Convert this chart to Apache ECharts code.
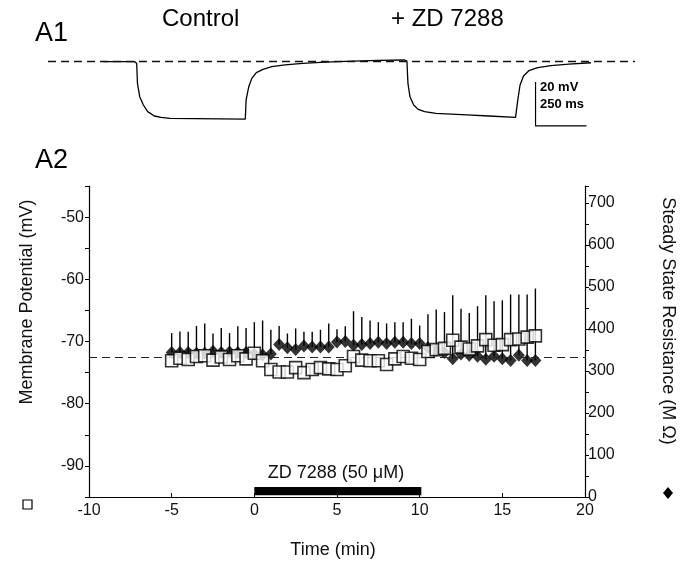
<!DOCTYPE html>
<html><head><meta charset="utf-8">
<script src="https://cdn.jsdelivr.net/npm/echarts@6/dist/echarts.min.js"></script>
<style>html,body{margin:0;padding:0;background:#fff}#c{width:697px;height:563px}</style>
</head><body><div id="c"></div>
<script>
// ---- A2 data ----
const timeMin = [-5,-4.5,-4,-3.5,-3,-2.5,-2,-1.5,-1,-0.5,0,0.5,1,1.5,2,2.5,3,3.5,4,4.5,5,5.5,6,6.5,7,7.5,8,8.5,9,9.5,10,10.5,11,11.5,12,12.5,13,13.5,14,14.5,15,15.5,16,16.5,17];
const membranePotential = [-73.1,-72.7,-72.9,-72.4,-72.3,-73.0,-72.5,-72.9,-72.3,-72.8,-71.9,-73.1,-74.5,-74.9,-74.9,-74.2,-75.0,-74.5,-74.2,-74.4,-74.5,-73.9,-72.4,-73.0,-73.1,-73.1,-73.7,-72.8,-72.4,-72.7,-72.9,-71.6,-71.3,-71.1,-69.8,-70.9,-71.2,-70.7,-69.7,-70.6,-70.5,-69.7,-69.6,-69.3,-69.1];
const resistance = [344,344,344,342,342,347,344,345,344,344,340,338,340,363,355,351,359,357,357,357,369,370,361,363,365,368,365,368,368,365,365,356,349,344,329,340,337,335,328,335,329,325,337,325,325];
const resistanceSem = [46,50,49,65,71,42,58,45,62,58,76,82,58,44,34,50,34,36,41,56,30,36,81,65,55,48,48,48,48,59,43,79,97,96,151,108,101,119,152,131,139,157,145,157,171];
const xTickLabels = [-10,-5,0,5,10,15,20];
const leftTickLabels = [-90,-80,-70,-60,-50];
const rightTickLabels = [0,100,200,300,400,500,600,700];
const baselinePotential = -72.5;
const drugPeriod = [0, 10.1];
// ---- A1 traces (ms, mV) ----
const controlTraceT = [272,424,435,439,450,468,489,522,555,598,968,972,985,1000,1022,1055,1098,1163,1250,1337,1424];
const controlTraceV = [-0.3,-0.3,-1,-10.2,-16.2,-20,-23,-25,-25.6,-26.1,-26.4,-17.7,-11.7,-7.9,-5.3,-3.8,-2.6,-1.8,-1.05,-0.6,-0.3];
const zdTraceT = [1424,1620,1750,1761,1766,1776,1794,1816,1848,1903,2055,2163,2294,2305,2316,2333,2359,2403,2468,2555,2664];
const zdTraceV = [-0.3,0.3,0.45,0,-10.2,-16.2,-20,-22,-23,-23.8,-24.5,-25,-25.6,-17.7,-10.9,-6.8,-4.4,-3.0,-2.1,-1.4,-0.8];
const scaleBarT = [2392, 2392, 2642];
const scaleBarV = [-9.5, -29.5, -29.5];

const FONT = '"Liberation Sans", Arial, Helvetica, sans-serif';
const chart = echarts.init(document.getElementById('c'), null, {renderer:'canvas'});
const zip = (a,b) => a.map((v,i)=>[v,b[i]]);

const option = {
  animation:false,
  backgroundColor:'#fff',
  grid:[
    {left:89, top:186, width:496, height:311},
    {left:48, top:39, width:587, height:88}
  ],
  xAxis:[
    {type:'value', gridIndex:0, min:-10, max:20, interval:5,
     axisLine:{onZero:false, lineStyle:{color:'#000', width:1.2}},
     axisTick:{inside:true, length:4, lineStyle:{color:'#000'}},
     axisLabel:{color:'#111', fontFamily:FONT, fontSize:16, margin:6,
       formatter:v=> xTickLabels.includes(v) ? String(v) : ''},
     splitLine:{show:false}},
    {type:'value', gridIndex:1, min:0, max:2880, show:false}
  ],
  yAxis:[
    {type:'value', gridIndex:0, min:-95, max:-45, interval:5, position:'left',
     axisLine:{show:true, onZero:false, lineStyle:{color:'#000', width:1.2}},
     axisTick:{show:true, length:4, lineStyle:{color:'#000'}},
     axisLabel:{color:'#111', fontFamily:FONT, fontSize:16, margin:5,
       formatter:v=> leftTickLabels.includes(v) ? String(v) : ''},
     splitLine:{show:false}},
    {type:'value', gridIndex:0, min:0, max:740, interval:50, position:'right',
     axisLine:{show:true, onZero:false, lineStyle:{color:'#000', width:1.2}},
     axisTick:{show:true, length:4, lineStyle:{color:'#000'}},
     axisLabel:{color:'#111', fontFamily:FONT, fontSize:16, margin:3,
       formatter:v=> rightTickLabels.includes(v) ? String(v) : ''},
     splitLine:{show:false}},
    {type:'value', gridIndex:1, min:-30, max:10, show:false}
  ],
  series:[
    {type:'line', xAxisIndex:0, yAxisIndex:0, data:[], z:1,
     markLine:{silent:true, symbol:'none', label:{show:false},
       lineStyle:{color:'#222', width:1.2, type:[8,5]},
       data:[{yAxis: baselinePotential}]}},
    {type:'custom', xAxisIndex:0, yAxisIndex:0, z:2,
     data:[[drugPeriod[0], drugPeriod[1]]],
     renderItem:(params, api)=>{
       const p0 = api.coord([api.value(0), -93.4]);
       const p1 = api.coord([api.value(1), -94.7]);
       return {type:'rect', shape:{x:p0[0], y:p0[1], width:p1[0]-p0[0], height:p1[1]-p0[1]}, style:{fill:'#000'}};
     }},
    {type:'custom', xAxisIndex:0, yAxisIndex:1, z:3,
     data: timeMin.map((t,i)=>[t, resistance[i], resistanceSem[i]]),
     encode:{x:0, y:1},
     renderItem:(params, api)=>{
       const p0 = api.coord([api.value(0), api.value(1)]);
       const p1 = api.coord([api.value(0), api.value(1)+api.value(2)]);
       return {type:'line', shape:{x1:p0[0], y1:p0[1], x2:p1[0], y2:p1[1]}, style:{stroke:'#000', lineWidth:1.4}};
     }},
    {type:'scatter', name:'Steady State Resistance', xAxisIndex:0, yAxisIndex:1, z:4,
     symbol:'diamond', symbolSize:[12,13], itemStyle:{color:'#000'},
     data: zip(timeMin, resistance)},
    {type:'scatter', name:'Membrane Potential', xAxisIndex:0, yAxisIndex:0, z:5,
     symbol:'rect', symbolSize:12, itemStyle:{color:'#fff', borderColor:'#000', borderWidth:1.6},
     data: zip(timeMin, membranePotential)},
    // A1 traces
    {type:'line', xAxisIndex:1, yAxisIndex:2, data:[], z:1,
     markLine:{silent:true, symbol:'none', label:{show:false},
       lineStyle:{color:'#111', width:1.3, type:[8,5]},
       data:[{yAxis:0}]}},
    {type:'line', xAxisIndex:1, yAxisIndex:2, showSymbol:false, z:2,
     lineStyle:{color:'#000', width:1.3}, data: zip(controlTraceT, controlTraceV)},
    {type:'line', xAxisIndex:1, yAxisIndex:2, showSymbol:false, z:2,
     lineStyle:{color:'#000', width:1.3}, data: zip(zdTraceT, zdTraceV)},
    {type:'line', xAxisIndex:1, yAxisIndex:2, showSymbol:false, z:2,
     lineStyle:{color:'#000', width:1.2}, data: zip(scaleBarT, scaleBarV)}
  ],
  graphic:[
    {type:'text', left:35, top:20, style:{text:'A1', font:'27px '+FONT, fill:'#000'}},
    {type:'text', left:162, top:7, style:{text:'Control', font:'24px '+FONT, fill:'#000'}},
    {type:'text', left:391, top:7, style:{text:'+ ZD 7288', font:'24px '+FONT, fill:'#000'}},
    {type:'text', left:540, top:81, style:{text:'20 mV', font:'bold 13px '+FONT, fill:'#000'}},
    {type:'text', left:540, top:98, style:{text:'250 ms', font:'bold 13px '+FONT, fill:'#000'}},
    {type:'text', left:35, top:147, style:{text:'A2', font:'27px '+FONT, fill:'#000'}},
    {type:'text', x:27, y:302, rotation:Math.PI/2, style:{text:'Membrane Potential (mV)', font:'18px '+FONT, fill:'#111', textAlign:'center', textVerticalAlign:'middle'}},
    {type:'text', x:668, y:321, rotation:-Math.PI/2, style:{text:'Steady State Resistance (M Ω)', font:'18px '+FONT, fill:'#111', textAlign:'center', textVerticalAlign:'middle'}},
    {type:'text', x:333, y:550, style:{text:'Time (min)', font:'18px '+FONT, fill:'#111', textAlign:'center', textVerticalAlign:'middle'}},
    {type:'text', x:336, y:473, style:{text:'ZD 7288 (50 μM)', font:'18px '+FONT, fill:'#111', textAlign:'center', textVerticalAlign:'middle'}},
    {type:'rect', shape:{x:23, y:500, width:9, height:9}, style:{fill:'#fff', stroke:'#000', lineWidth:1.2}},
    {type:'polygon', shape:{points:[[668,487],[673,493],[668,499],[663,493]]}, style:{fill:'#000'}}
  ]
};
chart.setOption(option);
</script></body></html>
